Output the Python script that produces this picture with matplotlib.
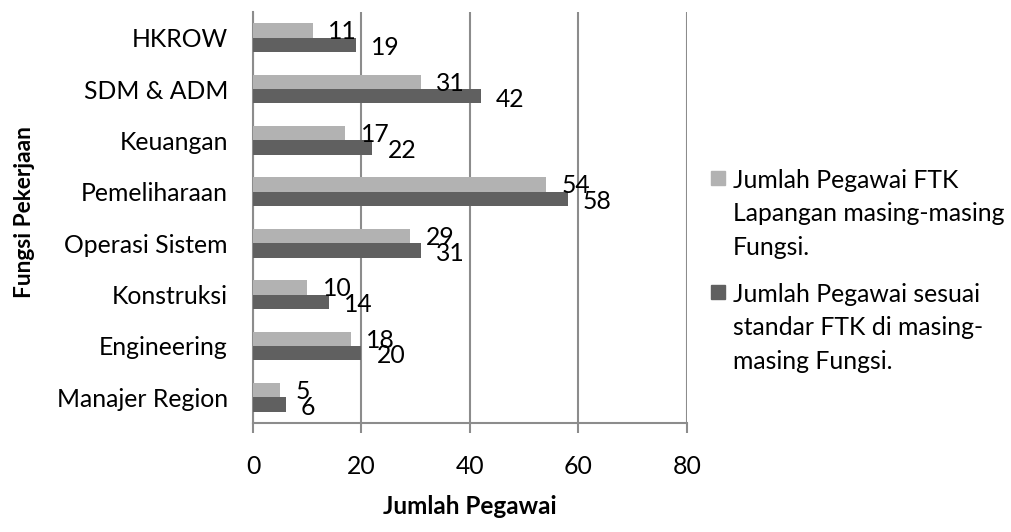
import matplotlib.pyplot as plt
import matplotlib.patches as mpatches
import numpy as np

plt.rcParams['font.family'] = ['Lato', 'DejaVu Sans']

fungsi = ['Manajer Region', 'Engineering', 'Konstruksi', 'Operasi Sistem',
          'Pemeliharaan', 'Keuangan', 'SDM & ADM', 'HKROW']
ftk_lapangan = [5, 18, 10, 29, 54, 17, 31, 11]
ftk_standar = [6, 20, 14, 31, 58, 22, 42, 19]

label_lap = 'Jumlah Pegawai FTK\nLapangan masing-masing\nFungsi.'
label_std = 'Jumlah Pegawai sesuai\nstandar FTK di masing-\nmasing Fungsi.'

warna_lap = '#b2b2b2'
warna_std = '#606060'
warna_grid = '#8c8c8c'
fs = 17.8

fig = plt.figure(figsize=(10.11, 5.32), dpi=100)
ax = fig.add_axes([0.2502, 0.2049, 0.4293, 0.7726])

y = np.arange(len(fungsi))
h = 0.28
b1 = ax.barh(y + h / 2, ftk_lapangan, height=h, color=warna_lap, zorder=3)
b2 = ax.barh(y - h / 2, ftk_standar, height=h, color=warna_std, zorder=3)

# angka di ujung batang
for i in range(len(fungsi)):
    ax.annotate(str(ftk_lapangan[i]), (ftk_lapangan[i], y[i] + h / 2),
                xytext=(11, -1), textcoords='offset points',
                ha='left', va='center', fontsize=fs, zorder=4)
    ax.annotate(str(ftk_standar[i]), (ftk_standar[i], y[i] - h / 2),
                xytext=(11, -2), textcoords='offset points',
                ha='left', va='center', fontsize=fs, zorder=4)

ax.set_xlim(0, 80)
ax.set_ylim(-0.5, len(fungsi) - 0.5)
ax.set_xticks([0, 20, 40, 60, 80])
ax.set_yticks(y)
ax.set_yticklabels(fungsi)
ax.xaxis.grid(True, color=warna_grid, linewidth=1.5, zorder=0)

for s in ['top', 'right']:
    ax.spines[s].set_visible(False)
for s in ['left', 'bottom']:
    ax.spines[s].set_color(warna_grid)
    ax.spines[s].set_linewidth(1.5)

ax.tick_params(axis='x', length=7, width=1.5, color=warna_grid, labelsize=fs, pad=16)
ax.tick_params(axis='y', length=0, labelsize=fs, pad=18)

ax.set_xlabel('Jumlah Pegawai', fontsize=17.5, fontweight='bold', labelpad=12)
fig.text(0.024, 0.6015, 'Fungsi Pekerjaan', rotation=90, fontsize=16.3,
         fontweight='bold', ha='center', va='center')

# legenda: kotak sejajar baris pertama teks
W, H = 1011, 532
for warna, teks, top in [(warna_lap, label_lap, 169), (warna_std, label_std, 283)]:
    fig.patches.append(mpatches.Rectangle((711 / W, 1 - (top + 16) / H), 14 / W, 14 / H,
                                          transform=fig.transFigure, color=warna))
    fig.text(733 / W, 1 - top / H, teks, fontsize=fs, va='top', ha='left',
             linespacing=1.55)

plt.savefig('out.png', dpi=100)
